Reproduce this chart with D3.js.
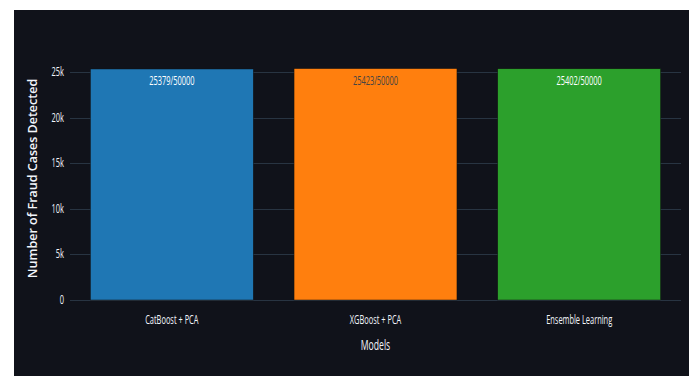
<!DOCTYPE html>
<html>
<head>
<meta charset="utf-8">
<script src="https://cdn.jsdelivr.net/npm/d3@7"></script>
<style>
  html, body { margin: 0; padding: 0; background: #fff; }
  svg { display: block; }
</style>
</head>
<body>
<div id="chart"></div>
<script>
// data
const models = ['CatBoost + PCA', 'XGBoost + PCA', 'Ensemble Learning'];
const detected = [25379, 25423, 25402];
const totals = [50000, 50000, 50000];
const barColors = ['#1f77b4', '#ff7f0e', '#2ca02c'];
const labelColors = ['#ffffff', '#444444', '#ffffff'];
const yTicks = [0, 5000, 10000, 15000, 20000, 25000];
const yTickLabels = ['0', '5k', '10k', '15k', '20k', '25k'];

const W = 689, H = 376;
const panel = { x: 14, y: 10 };
const plot = { left: 70, right: 681, top: 57, bottom: 300 };
const squeeze = 0.62; // text in the reference is very narrow

const svg = d3.select('#chart').append('svg')
  .attr('width', W)
  .attr('height', H);

// dark panel
svg.append('rect')
  .attr('x', panel.x).attr('y', panel.y)
  .attr('width', W - panel.x).attr('height', H - panel.y)
  .attr('fill', '#10121a');

// scales (plotly-style: bargap 0.2 inside each category slot)
const x = d3.scaleBand()
  .domain(models)
  .range([plot.left, plot.right])
  .paddingInner(0.2)
  .paddingOuter(0.1);

const y = d3.scaleLinear()
  .domain([0, d3.max(detected) * 1.05])
  .range([plot.bottom, plot.top]);

// gridlines
svg.append('g')
  .selectAll('line')
  .data(yTicks)
  .enter().append('line')
    .attr('x1', plot.left).attr('x2', plot.right)
    .attr('y1', d => Math.round(y(d)) + 0.5)
    .attr('y2', d => Math.round(y(d)) + 0.5)
    .attr('stroke', '#283442')
    .attr('stroke-width', 1);

// bars
svg.append('g')
  .selectAll('rect')
  .data(models)
  .enter().append('rect')
    .attr('x', d => x(d))
    .attr('width', x.bandwidth())
    .attr('y', (d, i) => y(detected[i]))
    .attr('height', (d, i) => y(0) - y(detected[i]))
    .attr('fill', (d, i) => barColors[i])
    .attr('stroke', '#111111')
    .attr('stroke-width', 0.5);

// helper for squeezed horizontal text
function sqText(g, px, py, txt, size, color, anchor) {
  g.append('text')
    .attr('transform', `translate(${px},${py}) scale(${squeeze},1)`)
    .attr('text-anchor', anchor || 'middle')
    .attr('font-family', '"Open Sans", sans-serif')
    .attr('font-size', size)
    .attr('fill', color)
    .text(txt);
}

// bar labels
const lbl = svg.append('g');
models.forEach((m, i) => {
  sqText(lbl, x(m) + x.bandwidth() / 2, y(detected[i]) + 16,
    `${detected[i]}/${totals[i]}`, 12, labelColors[i]);
});

// y tick labels
const yl = svg.append('g');
yTicks.forEach((t, i) => {
  sqText(yl, 64, y(t) + 4, yTickLabels[i], 12, '#f2f5fa', 'end');
});

// x tick labels
const xl = svg.append('g');
models.forEach(m => {
  sqText(xl, x(m) + x.bandwidth() / 2, 324, m, 12, '#f2f5fa');
});

// axis titles
sqText(svg, (plot.left + plot.right) / 2, 350, 'Models', 14, '#f2f5fa');

svg.append('text')
  .attr('transform', `translate(37,${(plot.top + plot.bottom) / 2}) rotate(-90)`)
  .attr('text-anchor', 'middle')
  .attr('font-family', '"Open Sans", sans-serif')
  .attr('font-size', 12.5)
  .attr('font-weight', 600)
  .attr('fill', '#f2f5fa')
  .text('Number of Fraud Cases Detected');
</script>
</body>
</html>
